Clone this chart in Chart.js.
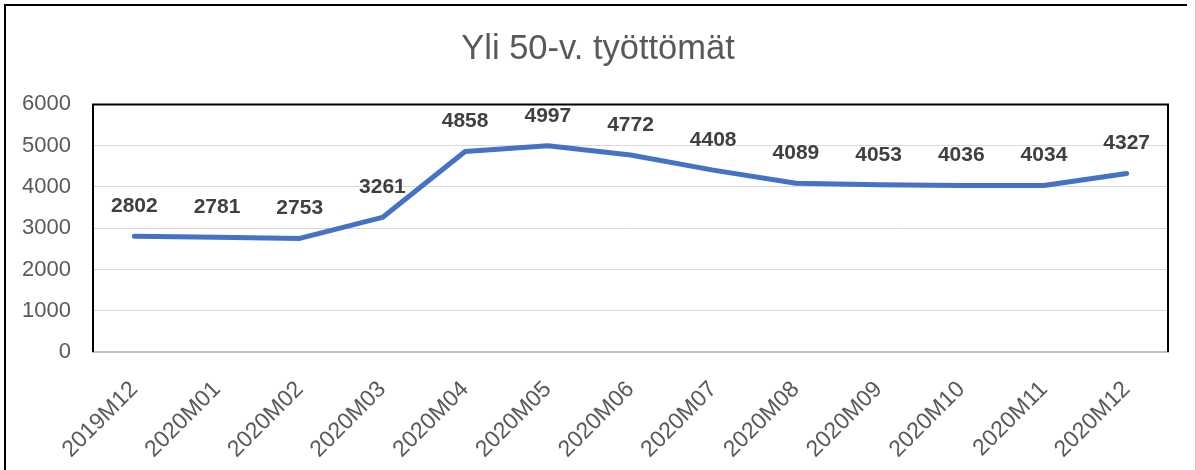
<!DOCTYPE html>
<html>
<head>
<meta charset="utf-8">
<script src="https://cdn.jsdelivr.net/npm/chart.js@4/dist/chart.umd.min.js"></script>
<style>
  html, body { margin: 0; padding: 0; background: #fff; }
  #wrap { width: 1196px; height: 470px; position: relative; }
</style>
</head>
<body>
<div id="wrap"><canvas id="chart" width="1196" height="470"></canvas></div>
<script>
const months = [
  "2019M12", "2020M01", "2020M02", "2020M03", "2020M04", "2020M05", "2020M06",
  "2020M07", "2020M08", "2020M09", "2020M10", "2020M11", "2020M12",
];
const unemployed = [2802, 2781, 2753, 3261, 4858, 4997, 4772, 4408, 4089, 4053, 4036, 4034, 4327];
const yTicks = [0, 1000, 2000, 3000, 4000, 5000, 6000];

// arvot pisteiden yläpuolelle
const valueLabels = {
  id: "valueLabels",
  afterDatasetsDraw(chart) {
    const ctx = chart.ctx;
    const meta = chart.getDatasetMeta(0);
    ctx.save();
    ctx.font = "bold 21px 'Liberation Sans', Arial, sans-serif";
    ctx.fillStyle = "#404040";
    ctx.textAlign = "center";
    ctx.textBaseline = "middle";
    meta.data.forEach(function (pt, i) {
      ctx.fillText(String(unemployed[i]), pt.x, pt.y - 30);
    });
    ctx.restore();
  },
};

// kehykset
const frames = {
  id: "frames",
  beforeDraw(chart) {
    const ctx = chart.ctx;
    ctx.save();
    ctx.fillStyle = "#ffffff";
    ctx.fillRect(0, 0, chart.width, chart.height);
    ctx.restore();
  },
  afterDraw(chart) {
    const ctx = chart.ctx;
    const a = chart.chartArea;
    ctx.save();
    ctx.strokeStyle = "#000000";
    ctx.lineWidth = 2;
    ctx.beginPath();
    ctx.moveTo(a.left, a.bottom);
    ctx.lineTo(a.left, a.top);
    ctx.lineTo(a.right, a.top);
    ctx.lineTo(a.right, a.bottom);
    ctx.stroke();
    ctx.beginPath();
    ctx.moveTo(5, chart.height);
    ctx.lineTo(5, 5);
    ctx.lineTo(1187, 5);
    ctx.stroke();
    ctx.strokeStyle = "#c8c8c8";
    ctx.lineWidth = 1;
    ctx.beginPath();
    ctx.moveTo(1195.5, 0);
    ctx.lineTo(1195.5, chart.height);
    ctx.stroke();
    ctx.restore();
  },
};

const ctx = document.getElementById("chart").getContext("2d");
new Chart(ctx, {
  type: "line",
  data: {
    labels: months,
    datasets: [
      {
        label: "Yli 50-v. työttömät",
        data: unemployed,
        borderColor: "#4472C4",
        backgroundColor: "#4472C4",
        borderWidth: 5,
        borderCapStyle: "round",
        borderJoinStyle: "round",
        pointRadius: 0,
        tension: 0,
      },
    ],
  },
  options: {
    responsive: false,
    animation: false,
    layout: { padding: 0 },
    plugins: {
      legend: { display: false },
      tooltip: { enabled: false },
      title: {
        display: true,
        text: "Yli 50-v. työttömät",
        color: "#595959",
        font: { family: "'Liberation Sans', Arial, sans-serif", size: 34.5, weight: "normal", lineHeight: 1.2 },
        padding: { top: 29, bottom: 34 },
      },
    },
    scales: {
      x: {
        offset: true,
        grid: { display: false, drawTicks: false },
        border: { display: true, color: "#c0c0c0", width: 2 },
        ticks: {
          color: "#595959",
          font: { family: "'Liberation Sans', Arial, sans-serif", size: 23 },
          minRotation: 45,
          maxRotation: 45,
          padding: 24,
          autoSkip: false,
        },
        afterFit(scale) { scale.height = 118; },
      },
      y: {
        min: 0,
        max: 6000,
        afterBuildTicks(scale) { scale.ticks = yTicks.map(function (v) { return { value: v }; }); },
        grid: { color: "#d9d9d9", lineWidth: 1, drawTicks: false },
        border: { display: false },
        ticks: {
          color: "#595959",
          font: { family: "'Liberation Sans', Arial, sans-serif", size: 22 },
          padding: 22,
          callback: function (v) { return String(v); },
        },
        afterFit(scale) { scale.width = 93; },
      },
      // tyhjä oikea akseli, jotta otsikko keskittyy kuvaan
      yRight: {
        position: "right",
        min: 0,
        max: 6000,
        grid: { display: false, drawTicks: false },
        border: { display: false },
        ticks: { display: false },
        afterFit(scale) { scale.width = 28; },
      },
    },
  },
  plugins: [frames, valueLabels],
});
</script>
</body>
</html>
